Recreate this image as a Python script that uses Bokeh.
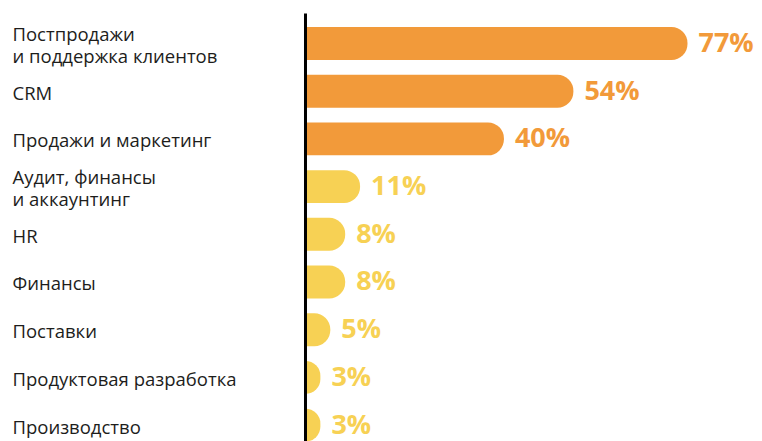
from bokeh.plotting import figure
from bokeh.models import Range1d, ColumnDataSource
from bokeh.core.properties import value
from bokeh.embed import file_html
from bokeh.resources import INLINE

categories = [
    "Постпродажи\nи поддержка клиентов",
    "CRM",
    "Продажи и маркетинг",
    "Аудит, финансы\nи аккаунтинг",
    "HR",
    "Финансы",
    "Поставки",
    "Продуктовая разработка",
    "Производство",
]
shares = [77, 54, 40, 11, 8, 8, 5, 3, 3]
value_labels = ["77%", "54%", "40%", "11%", "8%", "8%", "5%", "3%", "3%"]

ORANGE = "#F29A3A"
YELLOW = "#F7D154"
colors = [ORANGE if v >= 40 else YELLOW for v in shares]
positions = list(range(len(categories)))

src = ColumnDataSource(dict(
    y=positions, share=shares, cat=categories, lab=value_labels, color=colors,
    start=[0] * len(shares),
))

X_START, X_END = -61.48, 92.12
p = figure(width=762, height=441, output_backend="svg", toolbar_location=None,
           x_range=Range1d(X_START, X_END), y_range=Range1d(8.344, -0.901),
           x_axis_type=None, y_axis_type=None, min_border=0,
           outline_line_color=None, background_fill_color="white")
p.grid.visible = False

p.hbar(y="y", left="start", right="share", height=0.69, color="color",
       line_color=None, border_radius=(0, 16, 16, 0), source=src)

p.segment(x0=0, y0=-0.63, x1=0, y1=9, line_color="black", line_width=3)

p.text(x="share", y="y", text="lab", source=src, x_offset=11, y_offset=-2,
       text_color="color", text_font=value("Open Sans"), text_font_style="bold",
       text_font_size="27px", text_baseline="middle", text_align="left")

p.text(x=X_START, y="y", text="cat", source=src, x_offset=12, y_offset=1,
       text_color="#1d1d1b", text_font=value("Open Sans"),
       text_font_size="18.5px", text_baseline="middle", text_align="left",
       text_line_height=0.85)

open("out.html", "w").write(file_html(p, INLINE))
